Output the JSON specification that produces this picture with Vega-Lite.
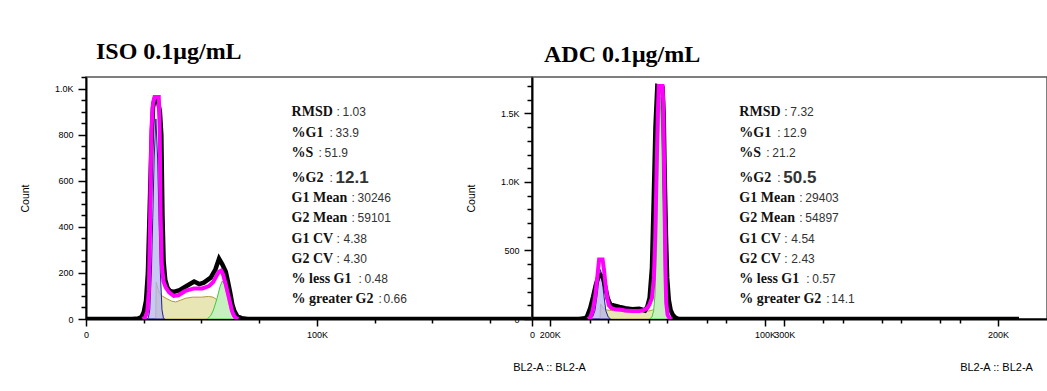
{
  "$schema": "https://vega.github.io/schema/vega-lite/v6.json",
  "background": "white",
  "padding": {"left": 19, "top": 39, "right": 0, "bottom": 0},
  "spacing": 0,
  "bounds": "flush",
  "config": {"view": {"stroke": "#555555", "strokeWidth": 1.5}, "font": "Liberation Sans"},
  "datasets": {
    "iso": [
      {"s": "S", "x": 30200, "y": 0}, {"s": "S", "x": 30400, "y": 160}, {"s": "S", "x": 31200, "y": 130}, {"s": "S", "x": 32000, "y": 110}, {"s": "S", "x": 33000, "y": 100}, {"s": "S", "x": 35000, "y": 88}, {"s": "S", "x": 37000, "y": 78}, {"s": "S", "x": 38800, "y": 74}, {"s": "S", "x": 41000, "y": 82}, {"s": "S", "x": 43000, "y": 90}, {"s": "S", "x": 46000, "y": 95}, {"s": "S", "x": 50000, "y": 95}, {"s": "S", "x": 53000, "y": 98}, {"s": "S", "x": 55000, "y": 95}, {"s": "S", "x": 56500, "y": 85}, {"s": "S", "x": 57500, "y": 70}, {"s": "S", "x": 58500, "y": 45}, {"s": "S", "x": 59500, "y": 20}, {"s": "S", "x": 60500, "y": 5}, {"s": "S", "x": 61000, "y": 0},
      {"s": "G2", "x": 52500, "y": 0}, {"s": "G2", "x": 54000, "y": 15}, {"s": "G2", "x": 55000, "y": 35}, {"s": "G2", "x": 56000, "y": 65}, {"s": "G2", "x": 57000, "y": 100}, {"s": "G2", "x": 58000, "y": 140}, {"s": "G2", "x": 59000, "y": 165}, {"s": "G2", "x": 60000, "y": 150}, {"s": "G2", "x": 61000, "y": 110}, {"s": "G2", "x": 62000, "y": 65}, {"s": "G2", "x": 62700, "y": 35}, {"s": "G2", "x": 63500, "y": 15}, {"s": "G2", "x": 64500, "y": 3}, {"s": "G2", "x": 65500, "y": 0},
      {"s": "G1", "x": 26500, "y": 0}, {"s": "G1", "x": 27000, "y": 5}, {"s": "G1", "x": 27600, "y": 40}, {"s": "G1", "x": 28300, "y": 200}, {"s": "G1", "x": 28900, "y": 440}, {"s": "G1", "x": 29500, "y": 700}, {"s": "G1", "x": 30250, "y": 870}, {"s": "G1", "x": 31000, "y": 700}, {"s": "G1", "x": 31600, "y": 440}, {"s": "G1", "x": 32200, "y": 200}, {"s": "G1", "x": 32900, "y": 40}, {"s": "G1", "x": 33500, "y": 5}, {"s": "G1", "x": 34000, "y": 0},
      {"s": "data", "x": 0, "y": 0}, {"s": "data", "x": 20000, "y": 0}, {"s": "data", "x": 22500, "y": 2}, {"s": "data", "x": 24000, "y": 8}, {"s": "data", "x": 25000, "y": 30}, {"s": "data", "x": 26000, "y": 80}, {"s": "data", "x": 26800, "y": 200}, {"s": "data", "x": 27500, "y": 450}, {"s": "data", "x": 28300, "y": 750}, {"s": "data", "x": 29000, "y": 920}, {"s": "data", "x": 29800, "y": 958}, {"s": "data", "x": 31000, "y": 958}, {"s": "data", "x": 32000, "y": 900}, {"s": "data", "x": 32600, "y": 800}, {"s": "data", "x": 33100, "y": 450}, {"s": "data", "x": 33600, "y": 250}, {"s": "data", "x": 34300, "y": 170}, {"s": "data", "x": 35300, "y": 135}, {"s": "data", "x": 36300, "y": 122}, {"s": "data", "x": 38000, "y": 118}, {"s": "data", "x": 40500, "y": 125}, {"s": "data", "x": 43000, "y": 140}, {"s": "data", "x": 46800, "y": 163}, {"s": "data", "x": 49000, "y": 152}, {"s": "data", "x": 51000, "y": 158}, {"s": "data", "x": 54000, "y": 180}, {"s": "data", "x": 56000, "y": 215}, {"s": "data", "x": 57600, "y": 262}, {"s": "data", "x": 59000, "y": 238}, {"s": "data", "x": 60500, "y": 205}, {"s": "data", "x": 61500, "y": 160}, {"s": "data", "x": 62500, "y": 110}, {"s": "data", "x": 63300, "y": 65}, {"s": "data", "x": 64200, "y": 35}, {"s": "data", "x": 65500, "y": 12}, {"s": "data", "x": 67500, "y": 3}, {"s": "data", "x": 70000, "y": 0}, {"s": "data", "x": 193000, "y": 0},
      {"s": "fit", "x": 24500, "y": 0}, {"s": "fit", "x": 25500, "y": 5}, {"s": "fit", "x": 26500, "y": 30}, {"s": "fit", "x": 27200, "y": 120}, {"s": "fit", "x": 27700, "y": 400}, {"s": "fit", "x": 28300, "y": 820}, {"s": "fit", "x": 29000, "y": 940}, {"s": "fit", "x": 29700, "y": 965}, {"s": "fit", "x": 31500, "y": 965}, {"s": "fit", "x": 31900, "y": 820}, {"s": "fit", "x": 32300, "y": 450}, {"s": "fit", "x": 32800, "y": 240}, {"s": "fit", "x": 33500, "y": 165}, {"s": "fit", "x": 34500, "y": 138}, {"s": "fit", "x": 36000, "y": 116}, {"s": "fit", "x": 38000, "y": 100}, {"s": "fit", "x": 40000, "y": 103}, {"s": "fit", "x": 43000, "y": 122}, {"s": "fit", "x": 46800, "y": 133}, {"s": "fit", "x": 50400, "y": 133}, {"s": "fit", "x": 53200, "y": 143}, {"s": "fit", "x": 55000, "y": 160}, {"s": "fit", "x": 56200, "y": 182}, {"s": "fit", "x": 57500, "y": 205}, {"s": "fit", "x": 58500, "y": 210}, {"s": "fit", "x": 59300, "y": 195}, {"s": "fit", "x": 60300, "y": 158}, {"s": "fit", "x": 61200, "y": 120}, {"s": "fit", "x": 61800, "y": 95}, {"s": "fit", "x": 62500, "y": 65}, {"s": "fit", "x": 63200, "y": 35}, {"s": "fit", "x": 64000, "y": 15}, {"s": "fit", "x": 64800, "y": 5}, {"s": "fit", "x": 66000, "y": 0}
    ],
    "adc": [
      {"s": "S", "x": 29200, "y": 0}, {"s": "S", "x": 29400, "y": 110}, {"s": "S", "x": 30500, "y": 80}, {"s": "S", "x": 32000, "y": 66}, {"s": "S", "x": 34000, "y": 62}, {"s": "S", "x": 37000, "y": 58}, {"s": "S", "x": 40000, "y": 52}, {"s": "S", "x": 43000, "y": 50}, {"s": "S", "x": 46000, "y": 50}, {"s": "S", "x": 49000, "y": 55}, {"s": "S", "x": 51000, "y": 62}, {"s": "S", "x": 52500, "y": 70}, {"s": "S", "x": 53000, "y": 115}, {"s": "S", "x": 53500, "y": 55}, {"s": "S", "x": 54200, "y": 0},
      {"s": "G2", "x": 50500, "y": 0}, {"s": "G2", "x": 51500, "y": 15}, {"s": "G2", "x": 52200, "y": 60}, {"s": "G2", "x": 52800, "y": 180}, {"s": "G2", "x": 53400, "y": 550}, {"s": "G2", "x": 54000, "y": 1150}, {"s": "G2", "x": 54900, "y": 1620}, {"s": "G2", "x": 55600, "y": 1400}, {"s": "G2", "x": 56200, "y": 900}, {"s": "G2", "x": 56800, "y": 450}, {"s": "G2", "x": 57400, "y": 150}, {"s": "G2", "x": 58000, "y": 40}, {"s": "G2", "x": 58800, "y": 5}, {"s": "G2", "x": 59500, "y": 0},
      {"s": "G1", "x": 25000, "y": 0}, {"s": "G1", "x": 26000, "y": 15}, {"s": "G1", "x": 27000, "y": 60}, {"s": "G1", "x": 28000, "y": 180}, {"s": "G1", "x": 28800, "y": 310}, {"s": "G1", "x": 29400, "y": 360}, {"s": "G1", "x": 30000, "y": 310}, {"s": "G1", "x": 30800, "y": 180}, {"s": "G1", "x": 31700, "y": 60}, {"s": "G1", "x": 32700, "y": 15}, {"s": "G1", "x": 33700, "y": 0},
      {"s": "data", "x": 0, "y": 0}, {"s": "data", "x": 20000, "y": 0}, {"s": "data", "x": 22000, "y": 3}, {"s": "data", "x": 23500, "y": 12}, {"s": "data", "x": 25000, "y": 80}, {"s": "data", "x": 26200, "y": 160}, {"s": "data", "x": 27400, "y": 250}, {"s": "data", "x": 28500, "y": 310}, {"s": "data", "x": 29500, "y": 320}, {"s": "data", "x": 30500, "y": 300}, {"s": "data", "x": 31500, "y": 230}, {"s": "data", "x": 32500, "y": 150}, {"s": "data", "x": 33500, "y": 110}, {"s": "data", "x": 35000, "y": 100}, {"s": "data", "x": 37500, "y": 88}, {"s": "data", "x": 40000, "y": 78}, {"s": "data", "x": 43000, "y": 72}, {"s": "data", "x": 46000, "y": 74}, {"s": "data", "x": 48500, "y": 62}, {"s": "data", "x": 49500, "y": 90}, {"s": "data", "x": 50500, "y": 155}, {"s": "data", "x": 51500, "y": 375}, {"s": "data", "x": 52300, "y": 900}, {"s": "data", "x": 53000, "y": 1400}, {"s": "data", "x": 53800, "y": 1700}, {"s": "data", "x": 56000, "y": 1690}, {"s": "data", "x": 56500, "y": 1500}, {"s": "data", "x": 57000, "y": 1000}, {"s": "data", "x": 57500, "y": 600}, {"s": "data", "x": 58000, "y": 300}, {"s": "data", "x": 58700, "y": 140}, {"s": "data", "x": 59500, "y": 65}, {"s": "data", "x": 60500, "y": 28}, {"s": "data", "x": 61500, "y": 10}, {"s": "data", "x": 63000, "y": 0}, {"s": "data", "x": 209000, "y": 0},
      {"s": "fit", "x": 24000, "y": 0}, {"s": "fit", "x": 25000, "y": 10}, {"s": "fit", "x": 26000, "y": 60}, {"s": "fit", "x": 27000, "y": 150}, {"s": "fit", "x": 28000, "y": 300}, {"s": "fit", "x": 28800, "y": 435}, {"s": "fit", "x": 30300, "y": 435}, {"s": "fit", "x": 30900, "y": 360}, {"s": "fit", "x": 31600, "y": 240}, {"s": "fit", "x": 32300, "y": 150}, {"s": "fit", "x": 33000, "y": 100}, {"s": "fit", "x": 34000, "y": 80}, {"s": "fit", "x": 35500, "y": 72}, {"s": "fit", "x": 37500, "y": 70}, {"s": "fit", "x": 40000, "y": 62}, {"s": "fit", "x": 43000, "y": 58}, {"s": "fit", "x": 46000, "y": 58}, {"s": "fit", "x": 48000, "y": 65}, {"s": "fit", "x": 49500, "y": 80}, {"s": "fit", "x": 50500, "y": 110}, {"s": "fit", "x": 51500, "y": 155}, {"s": "fit", "x": 52300, "y": 300}, {"s": "fit", "x": 52900, "y": 600}, {"s": "fit", "x": 53500, "y": 1100}, {"s": "fit", "x": 54000, "y": 1500}, {"s": "fit", "x": 54400, "y": 1700}, {"s": "fit", "x": 56000, "y": 1700}, {"s": "fit", "x": 56300, "y": 1590}, {"s": "fit", "x": 56800, "y": 1000}, {"s": "fit", "x": 57200, "y": 400}, {"s": "fit", "x": 57600, "y": 120}, {"s": "fit", "x": 58200, "y": 30}, {"s": "fit", "x": 59000, "y": 5}, {"s": "fit", "x": 60000, "y": 0}
    ],
    "isoText": [
      {"row": 1, "label": "RMSD", "value": "1.03"},
      {"row": 2, "label": "%G1", "value": "33.9"},
      {"row": 3, "label": "%S", "value": "51.9"},
      {"row": 4, "label": "%G2", "value": "12.1"},
      {"row": 5, "label": "G1 Mean", "value": "30246"},
      {"row": 6, "label": "G2 Mean", "value": "59101"},
      {"row": 7, "label": "G1 CV", "value": "4.38"},
      {"row": 8, "label": "G2 CV", "value": "4.30"},
      {"row": 9, "label": "% less G1", "value": "0.48"},
      {"row": 10, "label": "% greater G2", "value": "0.66"}
    ],
    "adcText": [
      {"row": 1, "label": "RMSD", "value": "7.32"},
      {"row": 2, "label": "%G1", "value": "12.9"},
      {"row": 3, "label": "%S", "value": "21.2"},
      {"row": 4, "label": "%G2", "value": "50.5"},
      {"row": 5, "label": "G1 Mean", "value": "29403"},
      {"row": 6, "label": "G2 Mean", "value": "54897"},
      {"row": 7, "label": "G1 CV", "value": "4.54"},
      {"row": 8, "label": "G2 CV", "value": "2.43"},
      {"row": 9, "label": "% less G1", "value": "0.57"},
      {"row": 10, "label": "% greater G2", "value": "14.1"}
    ]
  },
  "hconcat": [
    {
      "width": 446,
      "height": 242,
      "title": {"text": "ISO 0.1μg/mL", "anchor": "start", "frame": "group", "dx": 10, "offset": -10, "baseline": "alphabetic", "font": "Liberation Serif", "fontSize": 24, "fontWeight": "bold", "color": "#000000"},
      "layer": [
        {
          "data": {"name": "iso"},
          "encoding": {
            "x": {"field": "x", "type": "quantitative", "scale": {"domain": [0, 193074], "nice": false, "zero": false},
              "axis": {"orient": "bottom", "values": [0, 25000, 50000, 75000, 100000, 125000, 150000, 175000],
                "labelExpr": "datum.value % 100000 === 0 ? (datum.value === 0 ? '0' : format(datum.value / 1000, 'd') + 'K') : ''",
                "tickSize": {"condition": {"test": "datum.value % 100000 === 0", "value": 7}, "value": 4},
                "tickWidth": 1.5, "tickColor": "#000000", "domainColor": "#000000", "domainWidth": 2,
                "labelFont": "Liberation Sans", "labelFontSize": 9, "labelColor": "#000000", "labelPadding": 4, "labelFlush": false, "labelOverlap": false, "grid": false,
                "title": "BL2-A :: BL2-A", "titleFont": "Liberation Sans", "titleFontSize": 11, "titleFontWeight": "normal", "titleColor": "#000000",
                "titleX": 463, "titleY": 48, "titleAlign": "center", "titleBaseline": "middle"}},
            "y": {"field": "y", "type": "quantitative", "scale": {"domain": [0, 1052], "nice": false},
              "axis": {"orient": "left", "values": [0, 50, 100, 150, 200, 250, 300, 350, 400, 450, 500, 550, 600, 650, 700, 750, 800, 850, 900, 950, 1000, 1050],
                "labelExpr": "datum.value % 200 === 0 ? (datum.value >= 1000 ? format(datum.value / 1000, '.1f') + 'K' : format(datum.value, 'd')) : ''",
                "tickSize": {"condition": {"test": "datum.value % 200 === 0", "value": 8}, "value": 5},
                "tickWidth": 1.5, "tickColor": "#000000", "domainColor": "#000000", "domainWidth": 2,
                "labelFont": "Liberation Sans", "labelFontSize": 9, "labelColor": "#000000", "labelPadding": 5, "labelOverlap": false, "labelFlush": false, "grid": false,
                "title": "Count", "titleFont": "Liberation Sans", "titleFontSize": 10.5, "titleFontWeight": "normal", "titleColor": "#000000", "titlePadding": 24}}
          },
          "layer": [
            {"transform": [{"filter": "datum.s === 'S'"}], "mark": {"type": "area", "fill": "#e8e6b4", "stroke": "#b09a3a", "strokeWidth": 1, "clip": true}},
            {"transform": [{"filter": "datum.s === 'G2'"}], "mark": {"type": "area", "fill": "#c6f0be", "stroke": "#3ccc3c", "strokeWidth": 1, "clip": true}},
            {"transform": [{"filter": "datum.s === 'G1'"}], "mark": {"type": "area", "fill": "#b6b6ee", "fillOpacity": 0.75, "stroke": "#22228a", "strokeWidth": 1, "clip": true}},
            {"transform": [{"filter": "datum.s === 'data'"}], "mark": {"type": "line", "stroke": "#000000", "strokeWidth": 4.5, "clip": true}},
            {"transform": [{"filter": "datum.s === 'fit'"}], "mark": {"type": "line", "stroke": "#ff00ff", "strokeWidth": 4, "clip": true}}
          ]
        },
        {
          "data": {"name": "isoText"},
          "encoding": {
            "x": {"datum": 89000, "type": "quantitative", "scale": {"domain": [0, 193074], "nice": false, "zero": false}, "axis": null},
            "y": {"field": "row", "type": "quantitative", "scale": {"domain": [-0.757, 11.223], "nice": false, "zero": false, "reverse": true}, "axis": null}
          },
          "layer": [
            {"mark": {"type": "text", "align": "left", "baseline": "middle", "font": "Liberation Serif", "fontSize": 14, "fontWeight": "bold", "fill": "#111111", "dy": {"expr": "datum.row >= 4 ? 5 : 0"}}, "encoding": {"text": {"field": "label"}}},
            {"mark": {"type": "text", "align": "left", "baseline": "middle", "font": "Liberation Sans", "fontSize": 12, "fill": "#333333", "dy": {"expr": "datum.row >= 4 ? 5 : 0"}, "dx": {"expr": "({'RMSD': 45, '%G1': 38, '%S': 27, '%G2': 38, 'G1 Mean': 60, 'G2 Mean': 60, 'G1 CV': 45, 'G2 CV': 45, '% less G1': 67, '% greater G2': 87})[datum.label]"}}, "encoding": {"text": {"value": ":"}}},
            {"mark": {"type": "text", "align": "left", "baseline": "middle", "font": "Liberation Sans", "fill": "#333333", "fontSize": {"expr": "datum.label === '%G2' ? 17 : 12"}, "fontWeight": {"expr": "datum.label === '%G2' ? 'bold' : 'normal'"}, "dy": {"expr": "datum.row >= 4 ? 5 : 0"}, "dx": {"expr": "({'RMSD': 51, '%G1': 44, '%S': 33, '%G2': 44, 'G1 Mean': 66, 'G2 Mean': 66, 'G1 CV': 52, 'G2 CV': 52, '% less G1': 73, '% greater G2': 92})[datum.label]"}}, "encoding": {"text": {"field": "value"}}}
          ]
        }
      ],
      "resolve": {"scale": {"x": "independent", "y": "independent"}}
    },
    {
      "width": 515,
      "height": 242,
      "title": {"text": "ADC 0.1μg/mL", "anchor": "start", "frame": "group", "dx": 12, "offset": -9, "baseline": "alphabetic", "font": "Liberation Serif", "fontSize": 24, "fontWeight": "bold", "color": "#000000"},
      "layer": [
        {
          "data": {"name": "adc"},
          "encoding": {
            "x": {"field": "x", "type": "quantitative", "scale": {"domain": [0, 221030], "nice": false, "zero": false},
              "axis": {"orient": "bottom", "values": [0, 25000, 50000, 75000, 100000, 125000, 150000, 175000, 200000],
                "labelExpr": "datum.value % 100000 === 0 ? (datum.value === 0 ? '0' : format(datum.value / 1000, 'd') + 'K') : ''",
                "tickSize": {"condition": {"test": "datum.value % 100000 === 0", "value": 7}, "value": 4},
                "tickWidth": 1.5, "tickColor": "#000000", "domainColor": "#000000", "domainWidth": 2,
                "labelFont": "Liberation Sans", "labelFontSize": 9, "labelColor": "#000000", "labelPadding": 4, "labelFlush": false, "labelOverlap": false, "grid": false,
                "title": "BL2-A :: BL2-A", "titleFont": "Liberation Sans", "titleFontSize": 11, "titleFontWeight": "normal", "titleColor": "#000000",
                "titleX": 464, "titleY": 48, "titleAlign": "center", "titleBaseline": "middle"}},
            "y": {"field": "y", "type": "quantitative", "scale": {"domain": [0, 1766], "nice": false},
              "axis": {"orient": "left", "values": [0, 100, 200, 300, 400, 500, 600, 700, 800, 900, 1000, 1100, 1200, 1300, 1400, 1500, 1600, 1700],
                "labelExpr": "datum.value % 500 === 0 ? (datum.value >= 1000 ? format(datum.value / 1000, '.1f') + 'K' : format(datum.value, 'd')) : ''",
                "tickSize": {"condition": {"test": "datum.value % 500 === 0", "value": 8}, "value": 5},
                "tickWidth": 1.5, "tickColor": "#000000", "domainColor": "#000000", "domainWidth": 2,
                "labelFont": "Liberation Sans", "labelFontSize": 9, "labelColor": "#000000", "labelPadding": 5, "labelOverlap": false, "labelFlush": false, "grid": false,
                "title": "Count", "titleFont": "Liberation Sans", "titleFontSize": 10.5, "titleFontWeight": "normal", "titleColor": "#000000", "titlePadding": 24}}
          },
          "layer": [
            {"transform": [{"filter": "datum.s === 'S'"}], "mark": {"type": "area", "fill": "#e8e6b4", "stroke": "#b09a3a", "strokeWidth": 1, "clip": true}},
            {"transform": [{"filter": "datum.s === 'G2'"}], "mark": {"type": "area", "fill": "#c6f0be", "stroke": "#3ccc3c", "strokeWidth": 1, "clip": true}},
            {"transform": [{"filter": "datum.s === 'G1'"}], "mark": {"type": "area", "fill": "#b6b6ee", "fillOpacity": 0.75, "stroke": "#22228a", "strokeWidth": 1, "clip": true}},
            {"transform": [{"filter": "datum.s === 'data'"}], "mark": {"type": "line", "stroke": "#000000", "strokeWidth": 4.5, "clip": true}},
            {"transform": [{"filter": "datum.s === 'fit'"}], "mark": {"type": "line", "stroke": "#ff00ff", "strokeWidth": 4, "clip": true}}
          ]
        },
        {
          "data": {"name": "adcText"},
          "encoding": {
            "x": {"datum": 89000, "type": "quantitative", "scale": {"domain": [0, 221030], "nice": false, "zero": false}, "axis": null},
            "y": {"field": "row", "type": "quantitative", "scale": {"domain": [-0.757, 11.223], "nice": false, "zero": false, "reverse": true}, "axis": null}
          },
          "layer": [
            {"mark": {"type": "text", "align": "left", "baseline": "middle", "font": "Liberation Serif", "fontSize": 14, "fontWeight": "bold", "fill": "#111111", "dy": {"expr": "datum.row >= 4 ? 5 : 0"}}, "encoding": {"text": {"field": "label"}}},
            {"mark": {"type": "text", "align": "left", "baseline": "middle", "font": "Liberation Sans", "fontSize": 12, "fill": "#333333", "dy": {"expr": "datum.row >= 4 ? 5 : 0"}, "dx": {"expr": "({'RMSD': 45, '%G1': 38, '%S': 27, '%G2': 38, 'G1 Mean': 60, 'G2 Mean': 60, 'G1 CV': 45, 'G2 CV': 45, '% less G1': 67, '% greater G2': 87})[datum.label]"}}, "encoding": {"text": {"value": ":"}}},
            {"mark": {"type": "text", "align": "left", "baseline": "middle", "font": "Liberation Sans", "fill": "#333333", "fontSize": {"expr": "datum.label === '%G2' ? 17 : 12"}, "fontWeight": {"expr": "datum.label === '%G2' ? 'bold' : 'normal'"}, "dy": {"expr": "datum.row >= 4 ? 5 : 0"}, "dx": {"expr": "({'RMSD': 51, '%G1': 44, '%S': 33, '%G2': 44, 'G1 Mean': 66, 'G2 Mean': 66, 'G1 CV': 52, 'G2 CV': 52, '% less G1': 73, '% greater G2': 92})[datum.label]"}}, "encoding": {"text": {"field": "value"}}}
          ]
        },
        {
          "data": {"values": [{"a": 300000}]},
          "mark": {"type": "point", "opacity": 0},
          "encoding": {
            "x": {"field": "a", "type": "quantitative", "scale": {"domain": [192436, 412094], "nice": false, "zero": false},
              "axis": {"orient": "bottom", "values": [200000, 225000, 250000, 275000, 300000, 325000, 350000, 375000],
                "labelExpr": "datum.value % 100000 === 0 ? format(datum.value / 1000, 'd') + 'K' : ''",
                "tickSize": {"condition": {"test": "datum.value % 100000 === 0", "value": 7}, "value": 4},
                "tickWidth": 1.5, "tickColor": "#000000", "domain": false,
                "labelFont": "Liberation Sans", "labelFontSize": 9, "labelColor": "#000000", "labelPadding": 4, "labelFlush": false, "labelOverlap": false, "grid": false, "title": null}}
          }
        }
      ],
      "resolve": {"scale": {"x": "independent", "y": "independent"}}
    }
  ]
}
